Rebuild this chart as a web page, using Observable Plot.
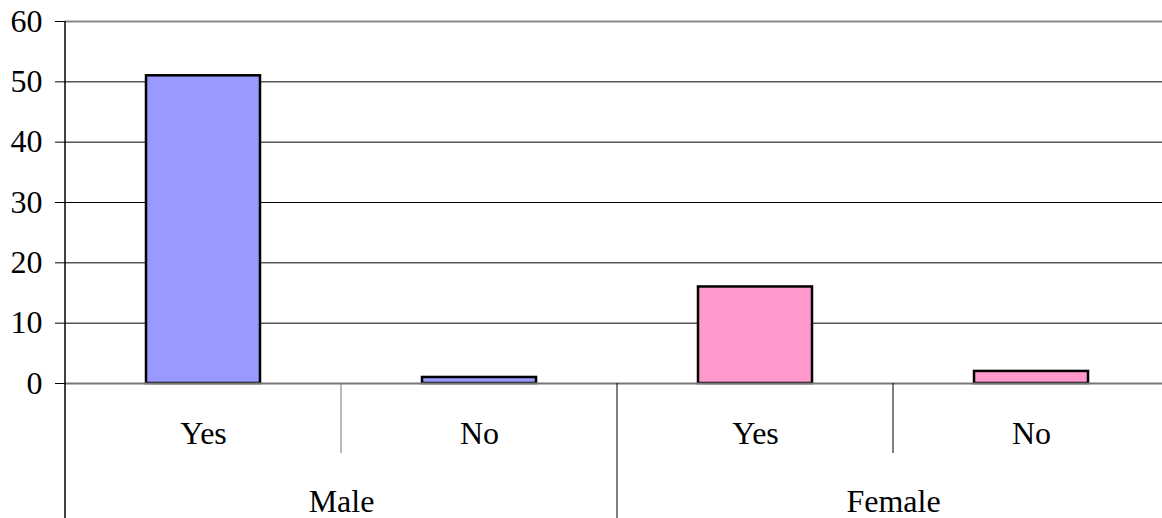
<!DOCTYPE html>
<html>
<head>
<meta charset="utf-8">
<script src="https://cdn.jsdelivr.net/npm/d3@7"></script>
<script src="https://cdn.jsdelivr.net/npm/@observablehq/plot@0.6"></script>
<style>
  html, body { margin: 0; padding: 0; background: #fff; }
  svg { display: block; }
</style>
</head>
<body>
<div id="chart"></div>
<script>
const groups = ["Male", "Male", "Female", "Female"];
const answers = ["Yes", "No", "Yes", "No"];
const values = [51, 1, 16, 2];
const colors = ["#9999FF", "#9999FF", "#FF99CC", "#FF99CC"];
const yTicks = [0, 10, 20, 30, 40, 50, 60];
const groupNames = ["Male", "Female"];

const data = answers.map((a, i) => ({key: groups[i] + "|" + a, group: groups[i], answer: a, value: values[i], color: colors[i]}));
const keys = data.map(d => d.key);

const W = 1162, H = 518;
const mL = 65, mR = -7, mT = 21, mB = 135;
const step = (W - mR - mL) / keys.length;
const font = "'Liberation Serif', 'Times New Roman', serif";
const fs = 32;

const chart = Plot.plot({
  width: W, height: H,
  marginLeft: mL, marginRight: mR, marginTop: mT, marginBottom: mB,
  style: {fontFamily: font, fontSize: fs + "px", color: "#000", background: "#fff"},
  x: {domain: keys, padding: 0, axis: null},
  y: {domain: [0, 60], axis: null},
  marks: [
    Plot.ruleY(yTicks.filter(t => t > 0 && t < 60), {stroke: "#000", strokeWidth: 1}),
    Plot.ruleY([60], {stroke: "#888", strokeWidth: 2}),
    Plot.barY(data, {x: "key", y: "value", fill: "color", stroke: "#000", strokeWidth: 2.5, insetLeft: 81, insetRight: 81}),
    Plot.ruleY([0], {stroke: "#777", strokeWidth: 2}),
    Plot.axisY({ticks: yTicks, tickSize: 10, tickPadding: 13, fontSize: fs, stroke: "#000", label: null}),
    Plot.axisX({tickSize: 0, tickPadding: 38, fontSize: fs, label: null, tickFormat: k => k.split("|")[1]}),
    Plot.text(groupNames.map((g, i) => ({g, k: keys[i * 2 + 1]})), {x: "k", text: "g", frameAnchor: "bottom", lineAnchor: "middle", dy: 118.5, dx: -step / 2, fontSize: fs})
  ]
});

// category separators and extended axis line (decorations built from the x scale)
const xs = chart.scale("x");
const svg = d3.select(chart);
const y0 = H - mB;
const seps = [
  {k: keys[1], len: 70, color: "#777"},
  {k: keys[2], len: H - y0, color: "#000"},
  {k: keys[3], len: 70, color: "#000"}
];
seps.forEach(s => {
  const x = xs.apply(s.k);
  svg.append("line").attr("x1", x).attr("x2", x).attr("y1", y0).attr("y2", y0 + s.len)
    .attr("stroke", s.color).attr("stroke-width", 1);
});
svg.append("line").attr("x1", mL).attr("x2", mL).attr("y1", mT).attr("y2", H)
  .attr("stroke", "#000").attr("stroke-width", 1.5);

document.getElementById("chart").appendChild(chart);
</script>
</body>
</html>
